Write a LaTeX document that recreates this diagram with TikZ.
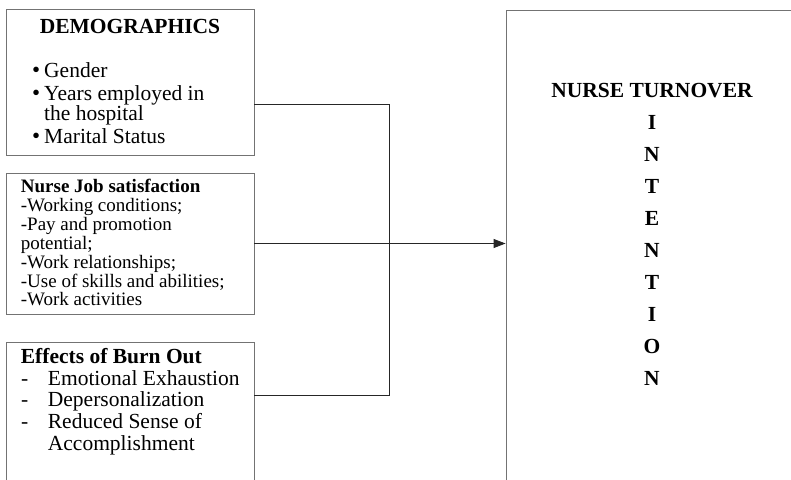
\documentclass[tikz,border=0pt]{standalone}
\usepackage{fontspec}
\setmainfont{Liberation Serif}
\usetikzlibrary{arrows.meta}
\newcommand\mybul{\makebox[12pt][l]{\smash{\fontsize{23}{23}\selectfont •}}}
\tikzset{
  boxstyle/.style={draw=black!55, line width=0.9pt, rectangle, inner sep=0pt},
  big/.style={anchor=base west, inner sep=0pt, font=\fontsize{21.5}{22}\selectfont},
  bigc/.style={anchor=base, inner sep=0pt, font=\fontsize{21.5}{22}\selectfont\bfseries},
  small/.style={anchor=base west, inner sep=0pt, font=\fontsize{19}{19}\selectfont},
  conn/.style={draw=black!85, line width=0.9pt},
}
\begin{document}
\begin{tikzpicture}[x=1pt,y=-1pt]
\useasboundingbox (0,0) rectangle (791,479);
\clip (0,0) rectangle (791,479);
\fill[white] (0,0) rectangle (791,479);
% boxes
\node[boxstyle, minimum width=248pt, minimum height=146pt] (demo) at (130,82) {};
\node[boxstyle, minimum width=248pt, minimum height=141.3pt] (job) at (130,243.65) {};
\node[boxstyle, minimum width=248pt, minimum height=178pt] (burn) at (130,431) {};
\node[boxstyle, minimum width=314pt, minimum height=510pt] (turn) at (663,265) {};
% box 1 text
\node[bigc] (t1) at (130,33.3) {DEMOGRAPHICS};
\node[big] (t1a) at (32,77) {\mybul Gender};
\node[big] (t1b) at (32,100) {\mybul Years employed in};
\node[big] (t1c) at (44,120.7) {the hospital};
\node[big] (t1d) at (32,143) {\mybul Marital Status};
% box 2 text
\node[small, font=\fontsize{19}{19}\selectfont\bfseries] (t2) at (20.7,192.3) {Nurse Job satisfaction};
\node[small] (t2a) at (20.7,211.7) {-Working conditions;};
\node[small] (t2b) at (20.7,230.3) {-Pay and promotion};
\node[small] (t2c) at (20.7,249) {potential;};
\node[small] (t2d) at (20.7,268.3) {-Work relationships;};
\node[small] (t2e) at (20.7,287.3) {-Use of skills and abilities;};
\node[small] (t2f) at (20.7,305) {-Work activities};
% box 3 text
\node[big, font=\fontsize{21.5}{22}\selectfont\bfseries] (t3) at (20.7,363.3) {Effects of Burn Out};
\node[big] (d1) at (21,385) {-};
\node[big] (t3a) at (47.7,385) {Emotional Exhaustion};
\node[big] (d2) at (21,406.7) {-};
\node[big] (t3b) at (47.7,406.7) {Depersonalization};
\node[big] (d3) at (21,428.3) {-};
\node[big] (t3c) at (47.7,428.3) {Reduced Sense of};
\node[big] (t3d) at (47.7,450) {Accomplishment};
% right box text
\node[bigc] (t4) at (652,97.3) {NURSE TURNOVER};
\foreach \ch [count=\i] in {I,N,T,E,N,T,I,O,N} {
  \node[bigc] (L\i) at (652,97.3+32*\i) {\ch};
}
% connectors
\coordinate (j1) at (389.3,104.3);
\coordinate (j2) at (389.3,395.7);
\coordinate (mid) at (389.3,243.5);
\draw[conn] (demo.east |- j1) -- (j1) -- (j2) -- (burn.east |- j2);
\draw[conn, -{Triangle[length=12pt,width=9pt]}] (job.east |- mid) -- (turn.west |- mid);
\end{tikzpicture}
\end{document}
